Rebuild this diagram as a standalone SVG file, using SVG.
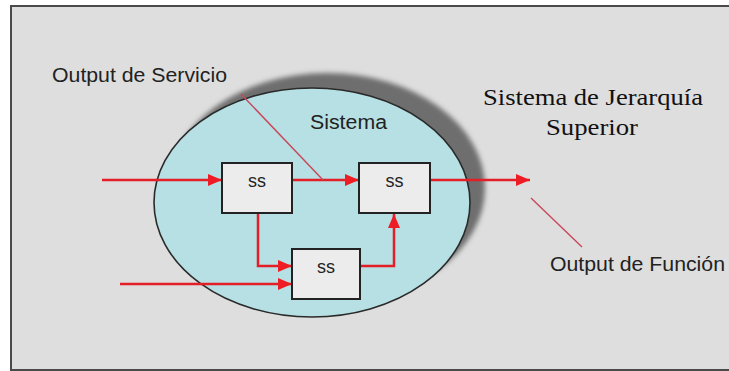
<svg xmlns="http://www.w3.org/2000/svg" width="729" height="371" viewBox="0 0 729 371">
  <style>
    .box { fill: #ececec; stroke: #222; stroke-width: 2; }
    .ss { font-family: "Liberation Sans", Arial, sans-serif; font-size: 18px; fill: #222; text-anchor: middle; }
    .flow { fill: none; stroke: #e41e26; stroke-width: 2.5; }
    .ptr { fill: none; stroke: #c8485a; stroke-width: 1.4; }
    .lbl { font-family: "Liberation Sans", Arial, sans-serif; font-size: 20px; fill: #222; }
    .serif { font-family: "Liberation Serif", "Times New Roman", serif; font-size: 24px; fill: #111; }
  </style>
  <defs>
    <marker id="arr" markerUnits="userSpaceOnUse" markerWidth="15" markerHeight="13" refX="14" refY="6" orient="auto">
      <path d="M0,0 L14,6 L0,12 Z" fill="#ee1c25"/>
    </marker>
    <filter id="blur" x="-10%" y="-10%" width="120%" height="120%">
      <feGaussianBlur stdDeviation="2.5"/>
    </filter>
  </defs>

  <g id="background">
    <rect x="0" y="0" width="729" height="371" fill="#ffffff"/>
    <rect x="11" y="6" width="722" height="364" fill="#dedede" stroke="#4a4a4a" stroke-width="2"/>
  </g>

  <g id="sistema">
    <ellipse cx="327" cy="188" rx="158" ry="115" fill="#6e6e6e" filter="url(#blur)"/>
    <ellipse cx="312" cy="202.5" rx="158" ry="114.5" fill="#b6e0e3" stroke="#2a2a2a" stroke-width="1.6"/>
    <text class="lbl" x="310" y="129" font-size="21" textLength="77" lengthAdjust="spacingAndGlyphs">Sistema</text>
  </g>

  <g id="connectors">
    <line class="flow" x1="102" y1="180" x2="222" y2="180" marker-end="url(#arr)"/>
    <line class="flow" x1="292" y1="180" x2="359" y2="180" marker-end="url(#arr)"/>
    <line class="flow" x1="430" y1="180" x2="530" y2="180" marker-end="url(#arr)"/>
    <polyline class="flow" points="258,213 258,266 292,266" marker-end="url(#arr)"/>
    <line class="flow" x1="120" y1="284" x2="292" y2="284" marker-end="url(#arr)"/>
    <polyline class="flow" points="360,266 394,266 394,214" marker-end="url(#arr)"/>
    <line class="ptr" x1="241" y1="94" x2="323" y2="180"/>
    <line class="ptr" x1="531" y1="198" x2="582" y2="247"/>
  </g>

  <g id="ss1">
    <rect class="box" x="222" y="163" width="70" height="50"/>
    <text class="ss" x="257" y="187">ss</text>
  </g>
  <g id="ss2">
    <rect class="box" x="359" y="163" width="71" height="50"/>
    <text class="ss" x="394.5" y="187">ss</text>
  </g>
  <g id="ss3">
    <rect class="box" x="292" y="249" width="68" height="50"/>
    <text class="ss" x="326" y="273">ss</text>
  </g>

  <g id="label-servicio">
    <text class="lbl" x="52" y="82" textLength="175" lengthAdjust="spacingAndGlyphs">Output de Servicio</text>
  </g>
  <g id="label-funcion">
    <text class="lbl" x="550" y="271" textLength="175" lengthAdjust="spacingAndGlyphs">Output de Función</text>
  </g>
  <g id="label-jerarquia">
    <text class="serif" x="483" y="105" textLength="220" lengthAdjust="spacingAndGlyphs">Sistema de Jerarquía</text>
    <text class="serif" x="546" y="135" textLength="92" lengthAdjust="spacingAndGlyphs">Superior</text>
  </g>
</svg>
